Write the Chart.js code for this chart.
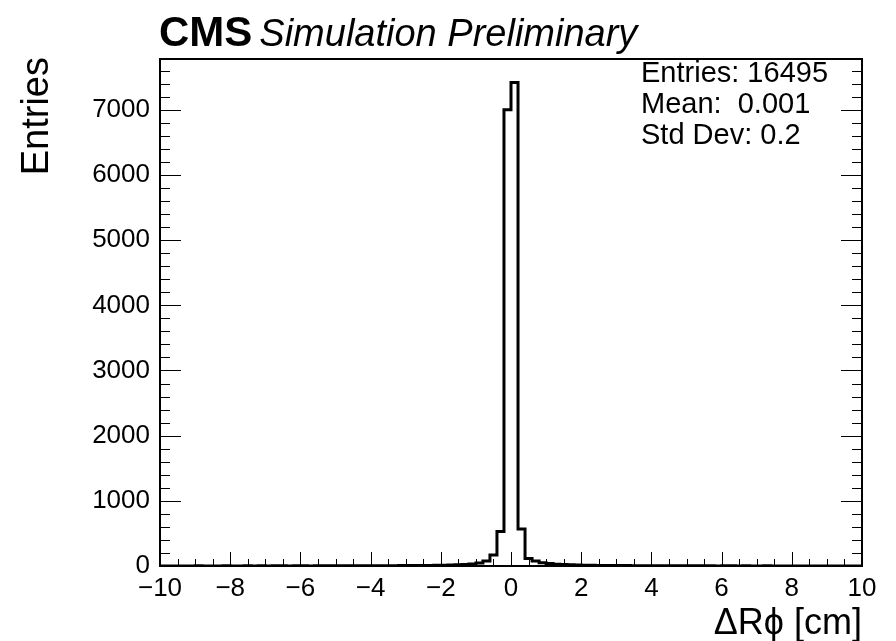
<!DOCTYPE html>
<html>
<head>
<meta charset="utf-8">
<script src="https://cdn.jsdelivr.net/npm/chart.js@4/dist/chart.umd.min.js"></script>
<style>
  html, body { margin: 0; padding: 0; background: #fff; }
  #wrap { width: 896px; height: 641px; position: relative; }
</style>
</head>
<body>
<div id="wrap"><canvas id="c"></canvas></div>
<script>
// Histogram binning: 100 bins from -10 to 10 cm
const xMin = -10;
const xMax = 10;
const binWidth = 0.2;

// Bin contents (entries per bin), left to right
const counts = [
  1, 1, 0, 1, 1, 2, 1, 1, 1, 2,
  1, 1, 2, 1, 2, 1, 2, 2, 1, 2,
  2, 1, 2, 2, 3, 2, 2, 3, 3, 3,
  4, 4, 5, 5, 6, 6, 7, 8, 9, 10,
  12, 15, 18, 24, 30, 45, 75, 170, 530, 7000,
  7420, 566, 115, 75, 48, 38, 28, 22, 18, 15,
  12, 10, 9, 8, 7, 6, 6, 5, 5, 4,
  4, 3, 3, 3, 2, 3, 2, 2, 2, 1,
  2, 2, 1, 2, 1, 1, 2, 1, 1, 1,
  0, 1, 1, 1, 0, 1, 1, 0, 1, 1
];

// Axis ticks and labels
const xTickValues = [-10, -8, -6, -4, -2, 0, 2, 4, 6, 8, 10];
const yTickValues = [0, 1000, 2000, 3000, 4000, 5000, 6000, 7000];
const yMax = 7780;

// Texts
const titleBold = 'CMS';
const titleItalic = 'Simulation Preliminary';
const xTitle = '\u0394R\u03D5 [cm]';
const yTitle = 'Entries';
const statsLines = ['Entries: 16495', 'Mean:  0.001', 'Std Dev: 0.2'];

const FONT = "'Liberation Sans', Arial, Helvetica, sans-serif";

// Step outline points: lower bin edges plus the final upper edge
const stepPoints = counts.map((c, i) => ({ x: xMin + i * binWidth, y: c }));
stepPoints.push({ x: xMax, y: counts[counts.length - 1] });

// Frame, inward ticks, titles and the statistics box text
const decorations = {
  id: 'decorations',
  afterDraw(chart) {
    const { ctx, chartArea: a, scales: { x, y } } = chart;
    ctx.save();
    ctx.strokeStyle = '#000';
    ctx.lineWidth = 1;

    // x axis ticks (bottom), major every 2, minor every 0.5
    ctx.beginPath();
    for (let k = 0; k <= 40; k++) {
      const v = xMin + k * 0.5;
      const px = Math.round(x.getPixelForValue(v)) + 0.5;
      const len = (k % 4 === 0) ? 14 : 7;
      ctx.moveTo(px, a.bottom);
      ctx.lineTo(px, a.bottom - len);
    }
    // y axis ticks (left and right), major every 1000, minor every 200
    for (let k = 0; k * 200 <= yMax; k++) {
      const v = k * 200;
      const py = Math.round(y.getPixelForValue(v)) + 0.5;
      const len = (k % 5 === 0) ? 21 : 10;
      ctx.moveTo(a.left, py);
      ctx.lineTo(a.left + len, py);
      ctx.moveTo(a.right, py);
      ctx.lineTo(a.right - len, py);
    }
    ctx.stroke();

    // frame
    ctx.lineWidth = 2;
    ctx.strokeRect(a.left, a.top, a.right - a.left, a.bottom - a.top);

    ctx.fillStyle = '#000';
    // header
    ctx.textBaseline = 'alphabetic';
    ctx.textAlign = 'left';
    ctx.font = 'bold 42px ' + FONT;
    ctx.fillText(titleBold, 159, 46);
    const wBold = ctx.measureText(titleBold).width;
    ctx.font = 'italic 38px ' + FONT;
    ctx.fillText(titleItalic, 159 + wBold + 7, 46);

    // statistics
    ctx.font = '29px ' + FONT;
    statsLines.forEach((s, i) => ctx.fillText(s, 641, 82 + i * 31));

    // x title
    ctx.textAlign = 'right';
    ctx.font = '36px ' + FONT;
    ctx.fillText(xTitle, a.right, 634);

    // y title
    ctx.save();
    ctx.translate(48, a.top - 2);
    ctx.rotate(-Math.PI / 2);
    ctx.textAlign = 'right';
    ctx.font = '38px ' + FONT;
    ctx.fillText(yTitle, 0, 0);
    ctx.restore();

    ctx.restore();
  }
};

new Chart(document.getElementById('c'), {
  type: 'line',
  data: {
    datasets: [{
      data: stepPoints,
      stepped: 'before',
      borderColor: '#000',
      borderWidth: 3,
      pointRadius: 0,
      fill: false,
      tension: 0
    }]
  },
  options: {
    responsive: true,
    maintainAspectRatio: false,
    animation: false,
    layout: { padding: { top: 59, right: 34, left: 0, bottom: 0 } },
    plugins: { legend: { display: false }, tooltip: { enabled: false } },
    scales: {
      x: {
        type: 'linear',
        min: xMin,
        max: xMax,
        grid: { display: false, drawTicks: false },
        border: { display: false },
        afterBuildTicks: s => { s.ticks = xTickValues.map(v => ({ value: v })); },
        afterFit: s => { s.height = 75; },
        ticks: {
          color: '#000',
          padding: 7,
          maxRotation: 0,
          autoSkip: false,
          font: { family: FONT, size: 26 },
          callback: v => String(v).replace('-', '\u2212')
        }
      },
      y: {
        type: 'linear',
        min: 0,
        max: yMax,
        grid: { display: false, drawTicks: false },
        border: { display: false },
        afterBuildTicks: s => { s.ticks = yTickValues.map(v => ({ value: v })); },
        afterFit: s => { s.width = 160; },
        ticks: {
          color: '#000',
          padding: 10,
          autoSkip: false,
          font: { family: FONT, size: 26 },
          callback: v => String(v)
        }
      }
    }
  },
  plugins: [decorations]
});
</script>
</body>
</html>
